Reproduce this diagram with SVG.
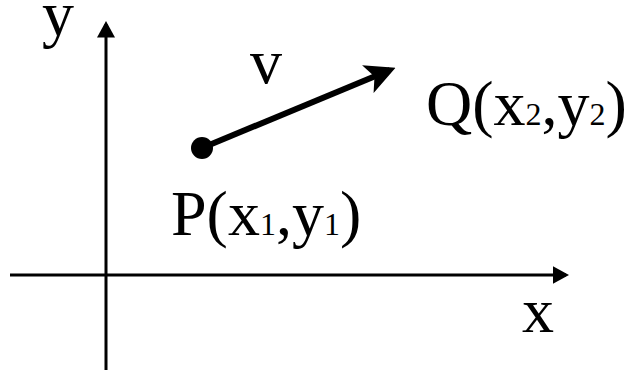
<svg xmlns="http://www.w3.org/2000/svg" width="633" height="373" viewBox="0 0 633 373">
<style>
text{font-family:"Liberation Serif","Times New Roman",serif;fill:#000}
.lbl{font-size:64px}
.sub{font-size:32px}
.axis{stroke:#000;stroke-width:3;fill:none}
</style>
<defs>
<marker id="ah" markerWidth="5.5" markerHeight="6" refX="4.5" refY="3" orient="auto" markerUnits="strokeWidth">
<path d="M0,0 L5.5,3 L0,6 Z" fill="#000"/>
</marker>
<marker id="ah2" markerWidth="5" markerHeight="5" refX="4" refY="2.5" orient="auto" markerUnits="strokeWidth">
<path d="M0,0 L5,2.5 L0,5 L1.2,2.5 Z" fill="#000"/>
</marker>
</defs>
<rect width="633" height="373" fill="#fff"/>
<g id="connectors">
<line class="axis" x1="106" y1="370" x2="106" y2="24" marker-end="url(#ah)"/>
<line class="axis" x1="10" y1="275" x2="566" y2="275" marker-end="url(#ah)"/>
<line x1="202" y1="148" x2="390" y2="70" stroke="#000" stroke-width="6" marker-end="url(#ah2)"/>
</g>
<g id="P">
<circle cx="202" cy="148" r="11" fill="#000"/>
<text x="171" y="235" class="lbl">P(x<tspan class="sub">1</tspan>,y<tspan class="sub">1</tspan>)</text>
</g>
<g id="Q">
<text x="426" y="125" class="lbl">Q(x<tspan class="sub">2</tspan>,y<tspan class="sub">2</tspan>)</text>
</g>
<g id="labels">
<text x="42" y="35" class="lbl">y</text>
<text x="522" y="332" class="lbl">x</text>
<text x="250" y="83" class="lbl">v</text>
</g>
</svg>
